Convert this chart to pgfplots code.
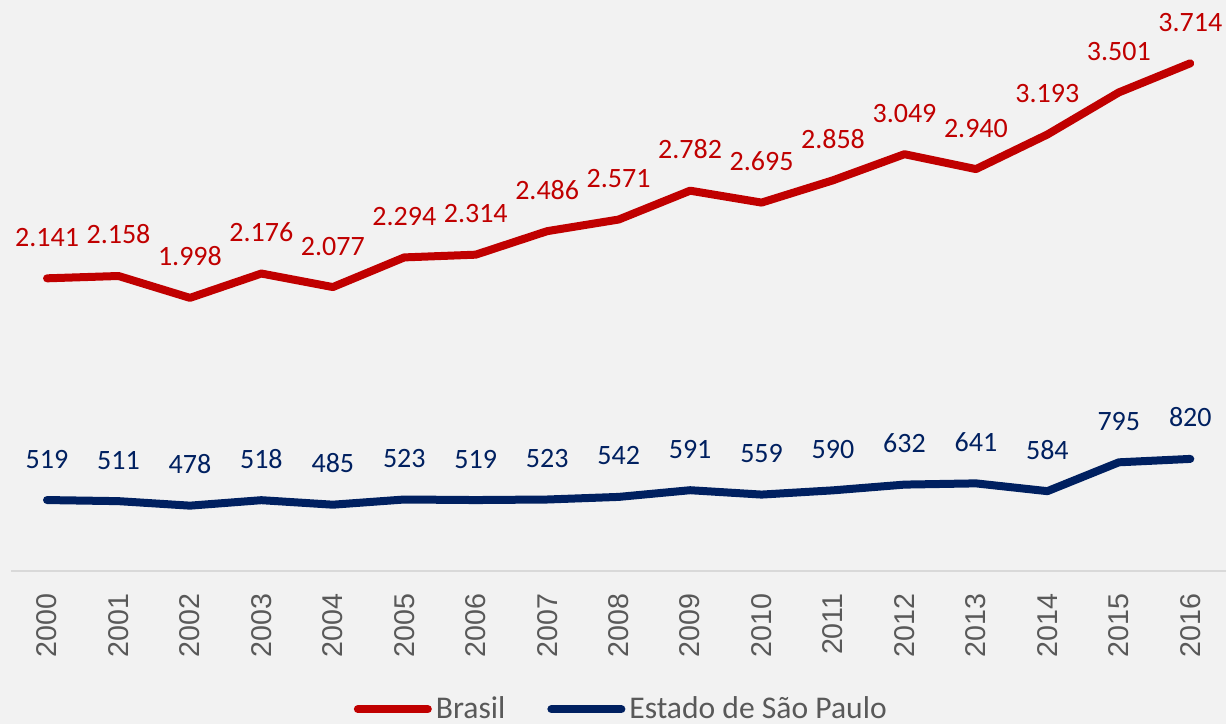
\documentclass[border=0pt]{standalone}
\usepackage{fontspec}
\setmainfont{Carlito}
\newfontfamily\arialf{Liberation Sans}
\usepackage{pgfplots}
\pgfplotsset{compat=1.18}
\definecolor{bg}{HTML}{F2F2F2}
\definecolor{bred}{HTML}{C00000}
\definecolor{bnavy}{HTML}{002060}
\definecolor{tgray}{HTML}{595959}
\definecolor{agray}{HTML}{D9D9D9}
\begin{document}
\begin{tikzpicture}
\fill[bg] (0,0) rectangle (613bp,362bp);
\begin{axis}[
  at={(5.65bp,76.5bp)}, anchor=south west,
  scale only axis, width=607.35bp, height=285.5bp,
  xmin=-0.5, xmax=16.5, ymin=0, ymax=4177,
  clip=false,
  axis x line=bottom, axis y line=none,
  x axis line style={-, draw=agray, line width=1bp},
  xtick=data,
  xticklabels={2000,2001,2002,2003,2004,2005,2006,2007,2008,2009,2010,2011,2012,2013,2014,2015,2016},
  major tick length=0pt,
  xticklabel style={yshift=-11bp, rotate=90, anchor=east, inner sep=0pt, font=\arialf\fontsize{14.3bp}{16bp}\selectfont, text=tgray},
  ytick=\empty,
  point meta=explicit symbolic,
  nodes near coords,
  every node near coord/.append style={anchor=base, inner sep=0pt, yshift=16bp, font=\fontsize{14bp}{16bp}\selectfont},
  legend columns=2,
  legend style={at={(0.503,-0.242)}, anchor=center, draw=none, fill=none,
    font=\fontsize{15.8bp}{17bp}\selectfont, text=tgray,
    /tikz/every even column/.append style={column sep=19bp}},
  legend image code/.code={\draw[#1, line cap=round] (0bp,0bp) -- (35bp,0bp);},
]
\addplot[bred, line width=4bp, line join=round, line cap=round, every node near coord/.append style={text=bred}] coordinates {
(0,2141) [2.141] (1,2158) [2.158] (2,1998) [1.998] (3,2176) [2.176] (4,2077) [2.077]
(5,2294) [2.294] (6,2314) [2.314] (7,2486) [2.486] (8,2571) [2.571] (9,2782) [2.782]
(10,2695) [2.695] (11,2858) [2.858] (12,3049) [3.049] (13,2940) [2.940] (14,3193) [3.193]
(15,3501) [3.501] (16,3714) [3.714]};
\addlegendentry{Brasil}
\addplot[bnavy, line width=4bp, line join=round, line cap=round, every node near coord/.append style={text=bnavy}] coordinates {
(0,519) [519] (1,511) [511] (2,478) [478] (3,518) [518] (4,485) [485]
(5,523) [523] (6,519) [519] (7,523) [523] (8,542) [542] (9,591) [591]
(10,559) [559] (11,590) [590] (12,632) [632] (13,641) [641] (14,584) [584]
(15,795) [795] (16,820) [820]};
\addlegendentry{Estado de São Paulo}
\end{axis}
\pgfresetboundingbox
\path[use as bounding box] (0,0) rectangle (613bp,362bp);
\end{tikzpicture}
\end{document}
